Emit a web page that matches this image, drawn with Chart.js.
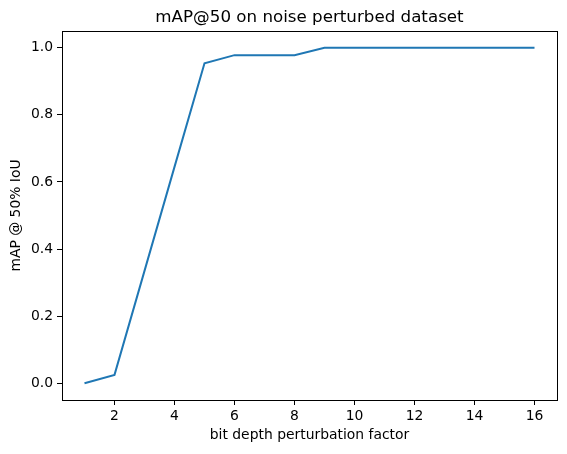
<!DOCTYPE html>
<html><head><meta charset="utf-8">
<script src="https://cdn.jsdelivr.net/npm/chart.js@4/dist/chart.umd.min.js"></script>
<style>html,body{margin:0;padding:0;background:#fff}#wrap{width:567px;height:454px}</style>
</head><body><div id="wrap"><canvas id="c" width="567" height="454"></canvas></div>
<script>
const bitDepth = [1,2,3,4,5,6,7,8,9,10,11,12,13,14,15,16];
const mAP50 = [0.0,0.025,0.335,0.645,0.954,0.978,0.978,0.978,1.0,1.0,1.0,1.0,1.0,1.0,1.0,1.0];
const xTicks = [2,4,6,8,10,12,14,16];
const yTicks = [0.0,0.2,0.4,0.6,0.8,1.0];
const chartTitle = 'mAP@50 on noise perturbed dataset';
const FONT = "'DejaVu Sans', sans-serif";
Chart.defaults.font.family = FONT;
Chart.defaults.color = '#000';
const frame = {id:'frame', afterDraw(ch){const a=ch.chartArea,c=ch.ctx;c.save();c.strokeStyle='#000';c.lineWidth=1;c.strokeRect(Math.round(a.left)+0.5,Math.round(a.top)+0.5,Math.round(a.right-a.left),Math.round(a.bottom-a.top));
  c.fillStyle='#000';c.font="16.7px 'DejaVu Sans', sans-serif";c.textAlign='center';c.textBaseline='middle';c.fillText(chartTitle,(a.left+a.right)/2,18);c.restore();}};
new Chart(document.getElementById('c'), {
  type:'line',
  data:{datasets:[{data:bitDepth.map((x,i)=>({x, y:mAP50[i]})), borderColor:'#1f77b4', borderWidth:2, pointRadius:0, tension:0, fill:false}]},
  options:{
    responsive:false, animation:false, devicePixelRatio:1,
    layout:{padding:{left:0,right:10,top:31,bottom:0}},
    plugins:{legend:{display:false}, tooltip:{enabled:false}, title:{display:false}},
    scales:{
      x:{type:'linear', min:0.25, max:16.75,
        afterBuildTicks(s){s.ticks = xTicks.map(v=>({value:v}));},
        afterFit(s){s.height = 54;},
        grid:{drawOnChartArea:false, drawTicks:true, tickLength:5, color:'#000'},
        border:{display:false},
        ticks:{font:{size:13.9}, color:'#000', padding:3, maxRotation:0, callback:v=>String(v)},
        title:{display:true, text:'bit depth perturbation factor', font:{size:13.9}, color:'#000', padding:{top:0,bottom:10}}},
      y:{type:'linear', min:-0.05, max:1.05,
        afterBuildTicks(s){s.ticks = yTicks.map(v=>({value:v}));},
        afterFit(s){s.width = 62;},
        grid:{drawOnChartArea:false, drawTicks:true, tickLength:5, color:'#000'},
        border:{display:false},
        ticks:{font:{size:13.9}, color:'#000', padding:4, callback:v=>Number(v).toFixed(1)},
        title:{display:true, text:'mAP @ 50% IoU', font:{size:13.9}, color:'#000', padding:{top:8,bottom:0}}}
    }
  },
  plugins:[frame]
});
</script></body></html>
